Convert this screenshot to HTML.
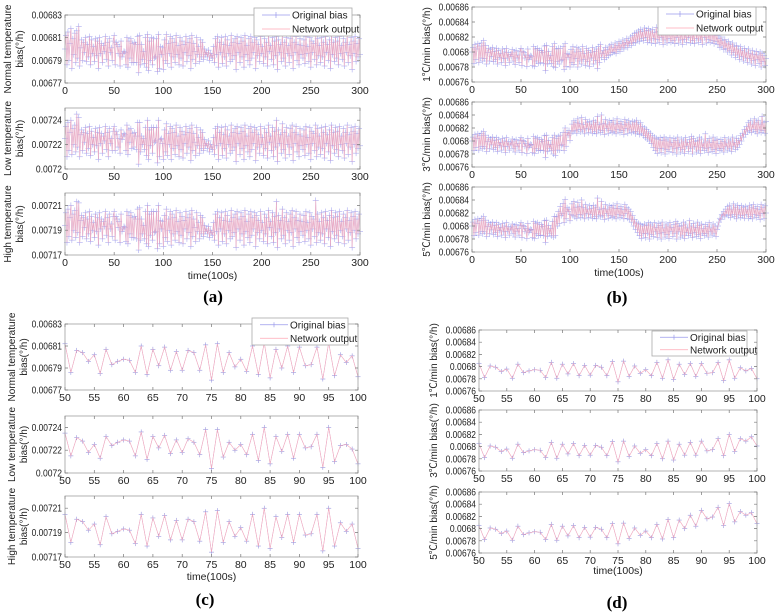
<!DOCTYPE html>
<html><head><meta charset="utf-8"><style>
html,body{margin:0;padding:0;background:#fff;}
svg{display:block;font-family:"Liberation Sans","Noto Sans CJK SC",sans-serif;}
</style></head><body>
<svg id="fig" width="779" height="616" viewBox="0 0 779 616"></svg>
<script>
// All bias values in units of 1e-6 deg/h (e.g. 6798 = 0.006798)
const timeTicksFull = [0, 50, 100, 150, 200, 250, 300];
const timeTicksZoom = [50, 55, 60, 65, 70, 75, 80, 85, 90, 95, 100];
const normalTicks = [6770, 6790, 6810, 6830];
const normalTickLabels = ['0.00677', '0.00679', '0.00681', '0.00683'];
const lowTicks = [7200, 7220, 7240];
const lowTickLabels = ['0.0072', '0.00722', '0.00724'];
const highTicks = [7170, 7190, 7210];
const highTickLabels = ['0.00717', '0.00719', '0.00721'];
const rateTicks = [6760, 6780, 6800, 6820, 6840, 6860];
const rateTickLabels = ['0.00676', '0.00678', '0.0068', '0.00682', '0.00684', '0.00686'];

const normalBias = [
6800,6812,6786,6815,6790,6805,6818,6783,6809,6795,6814,6788,6816,6792,6820,6785,6801,6808,6790,6806,
6797,6810,6789,6804,6793,6811,6786,6808,6796,6802,6789,6809,6794,6807,6783,6810,6796,6805,6788,6803,
6798,6811,6791,6806,6785,6809,6797,6801,6790,6807,
6812,6786,6806,6804,6796,6802,6785,6807,6793,6796,6798,6797,6786,6810,6784,6807,6792,6809,6788,6805,
6788,6806,6804,6788,6811,6779,6812,6786,6804,6791,6798,6787,6810,6784,6813,6781,6807,6790,6810,6786,
6809,6792,6793,6809,6780,6813,6783,6802,6795,6801,6782,
6808,6790,6813,6787,6805,6796,6811,6784,6809,6793,6806,6788,6812,6795,6803,6786,6810,6792,6807,6785,
6804,6797,6811,6789,6806,6794,6809,6783,6812,6791,6805,6798,6787,6810,6795,6802,6789,6808,6793,6806,
6791,6800,6795,6797,6793,6799,6790,6796,6794,6792,6802,6788,6809,6795,6811,6784,6806,6797,6810,6787,
6804,6793,6811,6785,6808,6796,6803,6789,6812,6791,6806,6794,6809,6782,6811,6797,6805,6788,6810,6793,
6807,6784,6812,6795,6803,6790,6809,6786,6811,6792,6806,6797,6810,6783,6808,6794,6804,6789,6811,6796,
6802,6787,6809,6793,6806,6785,6812,6798,6803,6791,6810,6786,6807,6794,6811,6782,6808,6797,6804,6789,
6813,6792,6806,6785,6810,6796,6803,6788,6809,6794,6812,6783,6806,6797,6811,6790,6804,6786,6809,6795,
6803,6792,6808,6787,6811,6796,6802,6789,6810,6784,6807,6797,6805,6791,6812,6786,6809,6794,6803,6788,
6810,6793,6806,6785,6811,6797,6804,6790,6808,6783,6812,6795,6806,6789,6810,6792,6807,6786,6811,6796,
6803,6791,6809,6785,6806,6797,6812,6788,6804,6794,6810,6782,6807,6796,6811,6789,6805,6793,6809,6795];

const lowBias = [
7225,7235,7210,7238,7215,7230,7240,7212,7233,7220,7236,7214,7245,7218,7242,7210,7228,7232,7215,7230,
7222,7234,7213,7229,7217,7235,7211,7231,7220,7226,7214,7233,7219,7230,7208,7234,7221,7229,7213,7227,
7223,7235,7216,7230,7210,7233,7221,7225,7215,7231,
7235,7215,7231,7228,7218,7225,7213,7232,7224,7227,7229,7228,7215,7236,7212,7232,7222,7233,7217,7229,
7218,7230,7227,7216,7238,7204,7238,7214,7227,7220,7225,7216,7234,7211,7240,7208,7232,7219,7234,7213,
7234,7222,7223,7234,7205,7240,7210,7224,7225,7221,7208,
7232,7214,7237,7211,7229,7220,7235,7208,7233,7217,7230,7212,7236,7219,7227,7210,7234,7216,7231,7209,
7228,7221,7235,7213,7230,7218,7233,7207,7236,7215,7229,7222,7211,7234,7219,7226,7213,7232,7217,7230,
7215,7224,7219,7221,7217,7223,7214,7220,7218,7216,7226,7212,7233,7219,7235,7208,7230,7221,7234,7211,
7228,7217,7235,7209,7232,7220,7227,7213,7236,7215,7230,7218,7233,7206,7235,7221,7229,7212,7234,7217,
7231,7208,7236,7219,7227,7214,7233,7210,7235,7216,7230,7221,7234,7207,7232,7218,7228,7213,7235,7220,
7226,7211,7233,7217,7230,7209,7236,7222,7227,7215,7234,7210,7231,7218,7240,7206,7232,7221,7228,7213,
7237,7216,7230,7209,7234,7220,7227,7212,7233,7218,7236,7207,7230,7221,7235,7214,7228,7210,7233,7219,
7227,7216,7232,7211,7235,7220,7226,7213,7234,7208,7231,7221,7229,7215,7236,7210,7233,7218,7227,7212,
7234,7217,7230,7209,7235,7221,7228,7214,7232,7207,7236,7219,7230,7213,7234,7216,7231,7210,7235,7220,
7227,7215,7233,7209,7230,7221,7236,7212,7228,7218,7234,7206,7231,7220,7235,7213,7229,7217,7233,7219];

const highBias = [
7194,7204,7180,7207,7185,7200,7210,7182,7203,7190,7206,7184,7213,7188,7212,7180,7198,7202,7185,7200,
7192,7204,7183,7199,7187,7205,7181,7201,7190,7196,7184,7203,7189,7200,7178,7204,7191,7199,7183,7197,
7193,7205,7186,7200,7180,7203,7191,7195,7185,7201,
7205,7182,7201,7199,7192,7197,7180,7203,7189,7191,7193,7192,7181,7205,7179,7202,7187,7204,7184,7200,
7184,7201,7199,7183,7207,7174,7208,7182,7199,7187,7194,7183,7205,7179,7210,7177,7203,7186,7205,7182,
7205,7188,7189,7205,7175,7210,7179,7198,7191,7197,7177,
7202,7184,7207,7181,7199,7190,7205,7178,7203,7187,7200,7182,7206,7189,7197,7180,7204,7186,7201,7179,
7198,7191,7205,7183,7200,7188,7203,7177,7206,7185,7199,7192,7181,7204,7189,7196,7183,7202,7187,7200,
7185,7194,7189,7191,7187,7193,7184,7190,7188,7186,7196,7182,7203,7189,7205,7178,7200,7191,7204,7181,
7198,7187,7205,7179,7202,7190,7197,7183,7206,7185,7200,7188,7203,7176,7205,7191,7199,7182,7204,7187,
7201,7178,7206,7189,7197,7184,7203,7180,7205,7186,7200,7191,7204,7177,7202,7188,7198,7183,7205,7190,
7196,7181,7203,7187,7200,7179,7206,7192,7197,7185,7204,7180,7201,7188,7213,7176,7202,7191,7198,7183,
7207,7186,7200,7179,7204,7190,7197,7182,7203,7188,7206,7177,7200,7191,7205,7184,7198,7180,7203,7189,
7197,7186,7202,7181,7205,7190,7196,7183,7204,7178,7201,7191,7199,7185,7214,7180,7203,7188,7197,7182,
7204,7187,7200,7179,7205,7191,7198,7184,7202,7177,7206,7189,7200,7183,7204,7186,7201,7180,7205,7190,
7197,7185,7203,7179,7200,7191,7206,7182,7198,7188,7204,7176,7201,7190,7205,7183,7199,7187,7203,7189];

const rateFlatHead = [
6800,6806,6785,6810,6790,6804,6811,6786,6808,6792,6812,6788,6815,6791,6809,6784,6799,6805,6788,6803,
6794,6806,6787,6801,6790,6805,6784,6802,6793,6798,6786,6804,6791,6800,6782,6805,6792,6799,6786,6797,
6794,6803,6788,6800,6783,6802,6792,6796,6786,6801,
6805,6782,6801,6799,6792,6796,6781,6804,6790,6793,6795,6794,6782,6807,6781,6804,6788,6805,6785,6802,
6786,6802,6799,6785,6808,6775,6809,6784,6801,6789];

const rate1Tail = [
6795,6785,6807,6781,6811,6779,6804,6787,6805,6784,6805,6789,6790,6807,6777,6811,6781,6798,6793,6797,6780,
6803,6786,6807,6783,6800,6791,6806,6780,6804,6788,6801,6784,6807,6790,6798,6782,6805,6787,6802,6781,
6799,6792,6806,6784,6801,6789,6804,6778,6807,6786,6810,6793,6798,6802,6790,6806,6793,6803,6795,6808,
6797,6810,6799,6806,6800,6812,6798,6809,6803,6814,6801,6811,6806,6816,6804,6813,6809,6818,6806,6815,
6811,6820,6809,6822,6813,6825,6812,6826,6816,6828,6814,6830,6818,6827,6815,6832,6819,6829,6813,6831,
6816,6828,6812,6830,6818,6826,6811,6833,6817,6827,6813,6831,6819,6825,6810,6834,6816,6828,6812,6830,
6818,6826,6813,6832,6815,6829,6811,6833,6819,6825,6812,6831,6816,6827,6810,6834,6817,6826,6813,6830,
6819,6828,6812,6832,6815,6826,6811,6835,6818,6827,6813,6830,6816,6825,6810,6833,6819,6828,6812,6831,
6817,6826,6813,6834,6815,6829,6811,6836,6814,6822,6810,6818,6806,6820,6808,6815,6803,6817,6805,6812,
6800,6814,6802,6810,6796,6812,6799,6807,6793,6809,6796,6804,6790,6807,6794,6802,6788,6805,6792,6800,
6786,6804,6791,6798,6784,6802,6789,6797,6782,6801,6790,6796,6785,6800,6780,6798,6787,6795,6782,6791];

const rate3Tail = [
6795,6785,6805,6780,6809,6778,6804,6786,6807,6786,6809,6793,6795,6813,6785,6820,6792,6813,6809,6816,6801,
6812,6826,6814,6831,6816,6828,6812,6834,6818,6827,6814,6836,6817,6825,6811,6833,6819,6828,6813,6830,
6818,6826,6812,6832,6815,6829,6811,6838,6817,6825,6813,6840,6816,6827,6810,6833,6819,6826,6812,6831,
6816,6828,6813,6832,6815,6826,6811,6834,6818,6827,6813,6830,6816,6825,6810,6833,6819,6828,6812,6831,
6817,6826,6813,6830,6815,6829,6811,6832,6814,6826,6810,6828,6812,6822,6808,6820,6805,6818,6803,6814,
6800,6812,6796,6808,6790,6806,6785,6804,6781,6802,6788,6805,6782,6801,6789,6806,6780,6803,6787,6800,
6784,6805,6791,6798,6782,6804,6788,6801,6780,6806,6790,6797,6783,6803,6787,6800,6781,6805,6792,6798,
6784,6802,6789,6807,6780,6804,6791,6799,6783,6801,6786,6806,6781,6803,6790,6797,6785,6811,6788,6800,
6782,6804,6790,6798,6784,6806,6787,6801,6781,6803,6789,6796,6785,6802,6788,6799,6783,6805,6791,6797,
6786,6803,6789,6800,6784,6806,6792,6798,6787,6804,6790,6801,6795,6808,6800,6812,6806,6818,6810,6822,
6814,6828,6816,6831,6813,6826,6818,6834,6815,6829,6811,6832,6817,6826,6813,6838,6816,6828,6812,6830];

const rate5Tail = [
6796,6785,6807,6783,6815,6785,6814,6800,6822,6804,6830,6816,6819,6835,6805,6841,6811,6828,6822,6826,6808,
6818,6834,6816,6838,6814,6829,6812,6836,6818,6830,6813,6840,6817,6828,6811,6833,6819,6826,6813,6831,
6818,6827,6812,6832,6815,6829,6811,6843,6817,6825,6814,6838,6816,6827,6810,6833,6819,6826,6812,6831,
6816,6829,6813,6832,6815,6827,6811,6834,6818,6827,6813,6830,6816,6825,6811,6833,6819,6828,6812,6826,
6810,6822,6806,6816,6800,6810,6795,6806,6790,6804,6785,6802,6781,6800,6788,6803,6782,6801,6789,6805,
6780,6803,6787,6800,6784,6805,6791,6798,6782,6804,6788,6801,6780,6806,6790,6797,6783,6803,6787,6800,
6781,6805,6792,6798,6784,6802,6789,6807,6780,6804,6791,6799,6783,6801,6786,6806,6781,6803,6790,6797,
6785,6808,6788,6800,6782,6804,6790,6798,6784,6806,6787,6801,6781,6803,6789,6796,6785,6802,6788,6799,
6783,6805,6791,6797,6786,6803,6789,6800,6784,6795,6800,6806,6812,6810,6818,6816,6822,6814,6826,6818,
6830,6816,6832,6813,6826,6818,6834,6815,6829,6811,6832,6817,6826,6813,6831,6816,6828,6812,6830,6818,
6826,6812,6832,6815,6829,6811,6833,6818,6827,6813,6830,6816,6825,6810,6833,6819,6828,6812,6831,6820];

const rate1Bias = rateFlatHead.concat(rate1Tail);
const rate3Bias = rateFlatHead.concat(rate3Tail);
const rate5Bias = rateFlatHead.concat(rate5Tail);
// network output overlaps the original bias in every subplot
const normalNet = normalBias, lowNet = lowBias, highNet = highBias;
const rate1Net = rate1Bias, rate3Net = rate3Bias, rate5Net = rate5Bias;

const NS = 'http://www.w3.org/2000/svg';
const svg = document.getElementById('fig');
function el(tag, parent) { const e = document.createElementNS(NS, tag); parent.appendChild(e); return e; }
function txt(parent, x, y, s, size, anchor) {
  const t = el('text', parent);
  t.setAttribute('x', x); t.setAttribute('y', y);
  t.setAttribute('font-size', size); t.setAttribute('text-anchor', anchor || 'middle');
  t.setAttribute('fill', '#222');
  t.textContent = s; return t;
}

function subplot(o) {
  const g = el('g', svg);
  
  
  const xs = v => o.L + (v - o.xmin) / (o.xmax - o.xmin) * (o.R - o.L);
  const ys = v => o.B - (v - o.ymin) / (o.ymax - o.ymin) * (o.B - o.T);
  const box = el('rect', g);
  
  
  box.setAttribute('x', o.L); box.setAttribute('y', o.T);
  box.setAttribute('width', o.R - o.L); box.setAttribute('height', o.B - o.T);
  box.setAttribute('fill', '#fff');
  const idx = o.data.map((d, i) => i).filter(i => o.x0 + i >= o.xmin && o.x0 + i <= o.xmax);
  const ms = o.ms;
  let lp = '', mp = '', np = '';
  idx.forEach((i, k) => {
    const X = xs(o.x0 + i), Y = ys(o.data[i]);
    lp += (k ? 'L' : 'M') + X.toFixed(2) + ' ' + Y.toFixed(2);
    mp += 'M' + (X - ms).toFixed(2) + ' ' + Y.toFixed(2) + 'h' + 2 * ms + 'M' + X.toFixed(2) + ' ' + (Y - ms).toFixed(2) + 'v' + 2 * ms;
    np += (k ? 'L' : 'M') + X.toFixed(2) + ' ' + ys(o.net[i]).toFixed(2);
  });
  const ol = el('path', g);
  
  
  ol.setAttribute('d', lp); ol.setAttribute('fill', 'none');
  ol.setAttribute('stroke', '#a8a8f0'); ol.setAttribute('stroke-width', '0.5');
  const om = el('path', g);
  
  
  om.setAttribute('d', mp); om.setAttribute('fill', 'none');
  om.setAttribute('stroke', o.dense ? '#9a9aec' : '#8080d8'); om.setAttribute('stroke-width', '0.5');
  const nl = el('path', g);
  
  
  nl.setAttribute('d', np); nl.setAttribute('fill', 'none');
  nl.setAttribute('stroke', '#ffa8b4'); nl.setAttribute('stroke-width', o.dense ? '0.7' : '0.6');
  nl.setAttribute('stroke-opacity', o.dense ? '0.7' : '0.9');
  const fr = el('rect', g);
  
  
  fr.setAttribute('x', o.L); fr.setAttribute('y', o.T);
  fr.setAttribute('width', o.R - o.L); fr.setAttribute('height', o.B - o.T);
  fr.setAttribute('fill', 'none'); fr.setAttribute('stroke', '#a0a0a0'); fr.setAttribute('stroke-width', '0.8');
  let tp = '';
  o.xticks.forEach(v => {
    const X = xs(v);
    tp += 'M' + X + ' ' + o.B + 'v-3M' + X + ' ' + o.T + 'v3';
    const t = txt(g, X, o.B + 11, String(v), 10.5);
    
    
  });
  o.yticks.forEach((v, k) => {
    const Y = ys(v);
    tp += 'M' + o.L + ' ' + Y + 'h3M' + o.R + ' ' + Y + 'h-3';
    const t = txt(g, o.L - 3, Y + 3.5, o.ylabels[k], 10, 'end');
    t.setAttribute('textLength', (o.ylabels[k].length * 4.35).toFixed(1));
    t.setAttribute('lengthAdjust', 'spacingAndGlyphs');
    
    
  });
  const tk = el('path', g);
  
  
  tk.setAttribute('d', tp); tk.setAttribute('stroke', '#777'); tk.setAttribute('stroke-width', '0.7');
  const cy = (o.T + o.B) / 2;
  o.ytitle.forEach((line, k) => {
    const x = o.ytx[k];
    const t = txt(g, x, cy, line, 10);
    t.setAttribute('transform', 'rotate(-90 ' + x + ' ' + cy + ')');
    
    
  });
  if (o.xtitle) {
    const t = txt(g, (o.L + o.R) / 2, o.xtitle, 'time(100s)', 10.5);
    
    
  }
}

function legend(x1, y1, x2, y2, ms) {
  const g = el('g', svg);
  
  
  const r = el('rect', g);
  r.setAttribute('x', x1); r.setAttribute('y', y1);
  r.setAttribute('width', x2 - x1); r.setAttribute('height', y2 - y1);
  r.setAttribute('fill', '#fff'); r.setAttribute('stroke', '#aaa'); r.setAttribute('stroke-width', '0.8');
  const h = (y2 - y1) / 2;
  const l1 = el('path', g);
  
  
  const ly1 = y1 + h * 0.5, ly2 = y1 + h * 1.5, mx = x1 + 22;
  l1.setAttribute('d', 'M' + (x1 + 8) + ' ' + ly1 + 'h28M' + (mx - ms) + ' ' + ly1 + 'h' + 2 * ms + 'M' + mx + ' ' + (ly1 - ms) + 'v' + 2 * ms);
  l1.setAttribute('stroke', '#9a9aec'); l1.setAttribute('stroke-width', '0.7');
  const t1 = txt(g, x1 + 38, ly1 + 3.5, 'Original bias', 10, 'start');
  
  
  const l2 = el('path', g);
  
  
  l2.setAttribute('d', 'M' + (x1 + 8) + ' ' + ly2 + 'h28');
  l2.setAttribute('stroke', '#ffa8b4'); l2.setAttribute('stroke-width', '0.8');
  const t2 = txt(g, x1 + 38, ly2 + 3.5, 'Network output', 10, 'start');
  
  
}

function panelLabel(x, y, s) {
  const t = el('text', svg);
  t.setAttribute('x', x); t.setAttribute('y', y);
  t.setAttribute('text-anchor', 'middle'); t.setAttribute('font-size', '17');
  t.setAttribute('font-family', '"Liberation Serif", serif');
  t.setAttribute('font-weight', 'bold');
  t.textContent = s;
  
  
}

const aL = 65, aR = 360, cL = 65, cR = 358, bL = 472, bR = 766, dL = 479, dR = 757;
subplot({name:'a-normal', L:aL,R:aR,T:15,B:83, xmin:0,xmax:300,xticks:timeTicksFull, ymin:6770,ymax:6830,yticks:normalTicks,ylabels:normalTickLabels, x0:0,data:normalBias,net:normalNet, ms:3, dense:true, ytitle:['Normal temperature','bias(°/h)'], ytx:[11,23]});
subplot({name:'a-low', L:aL,R:aR,T:108,B:169, xmin:0,xmax:300,xticks:timeTicksFull, ymin:7200,ymax:7250,yticks:lowTicks,ylabels:lowTickLabels, x0:0,data:lowBias,net:lowNet, ms:3, dense:true, ytitle:['Low temperature','bias(°/h)'], ytx:[11,23]});
subplot({name:'a-high', L:aL,R:aR,T:193,B:255, xmin:0,xmax:300,xticks:timeTicksFull, ymin:7170,ymax:7220,yticks:highTicks,ylabels:highTickLabels, x0:0,data:highBias,net:highNet, ms:3, dense:true, ytitle:['High temperature','bias(°/h)'], ytx:[11,23], xtitle:279});
legend(254, 8, 352, 36, 3);
panelLabel(213, 302, '(a)');
subplot({name:'b-1c', L:bL,R:bR,T:7,B:82, xmin:0,xmax:300,xticks:timeTicksFull, ymin:6760,ymax:6860,yticks:rateTicks,ylabels:rateTickLabels, x0:0,data:rate1Bias,net:rate1Net, ms:3, dense:true, ytitle:['1℃/min bias(°/h)'], ytx:[430]});
subplot({name:'b-3c', L:bL,R:bR,T:102,B:167, xmin:0,xmax:300,xticks:timeTicksFull, ymin:6760,ymax:6860,yticks:rateTicks,ylabels:rateTickLabels, x0:0,data:rate3Bias,net:rate3Net, ms:3, dense:true, ytitle:['3℃/min bias(°/h)'], ytx:[430]});
subplot({name:'b-5c', L:bL,R:bR,T:187,B:252, xmin:0,xmax:300,xticks:timeTicksFull, ymin:6760,ymax:6860,yticks:rateTicks,ylabels:rateTickLabels, x0:0,data:rate5Bias,net:rate5Net, ms:3, dense:true, ytitle:['5℃/min bias(°/h)'], ytx:[430], xtitle:276});
legend(658, 7, 756, 35, 3);
panelLabel(617, 303, '(b)');
subplot({name:'c-normal', L:cL,R:cR,T:324,B:390, xmin:50,xmax:100,xticks:timeTicksZoom, ymin:6770,ymax:6830,yticks:normalTicks,ylabels:normalTickLabels, x0:0,data:normalBias,net:normalNet, ms:2.5, ytitle:['Normal temperature','bias(°/h)'], ytx:[15,27]});
subplot({name:'c-low', L:cL,R:cR,T:416,B:473, xmin:50,xmax:100,xticks:timeTicksZoom, ymin:7200,ymax:7250,yticks:lowTicks,ylabels:lowTickLabels, x0:0,data:lowBias,net:lowNet, ms:2.5, ytitle:['Low temperature','bias(°/h)'], ytx:[15,27]});
subplot({name:'c-high', L:cL,R:cR,T:496,B:557, xmin:50,xmax:100,xticks:timeTicksZoom, ymin:7170,ymax:7220,yticks:highTicks,ylabels:highTickLabels, x0:0,data:highBias,net:highNet, ms:2.5, ytitle:['High temperature','bias(°/h)'], ytx:[15,27], xtitle:580});
legend(252, 318, 348, 345, 2.5);
panelLabel(205, 605, '(c)');
subplot({name:'d-1c', L:dL,R:dR,T:330,B:391, xmin:50,xmax:100,xticks:timeTicksZoom, ymin:6760,ymax:6860,yticks:rateTicks,ylabels:rateTickLabels, x0:0,data:rate1Bias,net:rate1Net, ms:2.5, ytitle:['1℃/min bias(°/h)'], ytx:[437]});
subplot({name:'d-3c', L:dL,R:dR,T:410,B:471, xmin:50,xmax:100,xticks:timeTicksZoom, ymin:6760,ymax:6860,yticks:rateTicks,ylabels:rateTickLabels, x0:0,data:rate3Bias,net:rate3Net, ms:2.5, ytitle:['3℃/min bias(°/h)'], ytx:[437]});
subplot({name:'d-5c', L:dL,R:dR,T:492,B:553, xmin:50,xmax:100,xticks:timeTicksZoom, ymin:6760,ymax:6860,yticks:rateTicks,ylabels:rateTickLabels, x0:0,data:rate5Bias,net:rate5Net, ms:2.5, ytitle:['5℃/min bias(°/h)'], ytx:[437], xtitle:574});
legend(652, 331, 747, 356, 2.5);
panelLabel(617, 608, '(d)');
</script>
</body></html>
